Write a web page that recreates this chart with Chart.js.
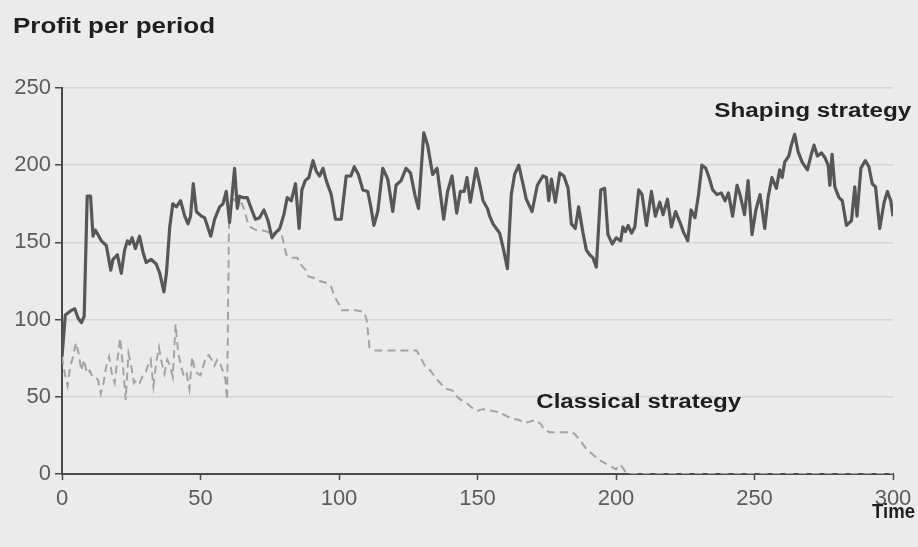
<!DOCTYPE html>
<html>
<head>
<meta charset="utf-8">
<script src="https://cdn.jsdelivr.net/npm/chart.js@4.4.1/dist/chart.umd.min.js"></script>
<style>
  html, body { margin: 0; padding: 0; background: #ebebeb; }
  #wrap { width: 918px; height: 547px; position: relative; }
</style>
</head>
<body>
<div id="wrap"><canvas id="chart"></canvas></div>
<script>
// time axis ticks / y ticks
const timeTicks = [0, 50, 100, 150, 200, 250, 300];
const profitTicks = [0, 50, 100, 150, 200, 250];

// shaping strategy (solid dark line)
const shapingTime = [0, 1.2, 3.4, 4.6, 5.8, 7, 8, 9.1, 10.3, 11.2, 12, 13, 14.2, 16, 17.6, 18.4, 20, 21.4, 22.6, 23.6,
  24.4, 25.3, 26.5, 28, 29.2, 30.4, 32.2, 34, 35.3, 36.8, 37.7, 38.9, 40, 41.3, 42.8, 44.3, 45.5, 46.4, 47.4, 48.5,
  50.3, 51.5, 53.7, 55.1, 56.9, 58.1, 59.3, 60.5, 62.3, 63.3, 64.1, 65.3, 66.9, 68.3, 69.8, 71.3, 72.9, 74.4, 75.8, 77,
  78.6, 80.1, 81.3, 82.8, 84.3, 85.6, 86.6, 87.8, 89.1, 90.6, 91.8, 93, 94.2, 95.4, 97.2, 98.7, 100.8, 102.6, 104.3, 105.5,
  107, 108.6, 110.4, 111.6, 112.6, 114, 115.8, 117.6, 119.4, 120.6, 122.4, 124.2, 125.8, 127.5, 128.7, 130.6, 132, 133.8, 135.4, 137.8,
  139.2, 140.8, 142.5, 143.8, 145.2, 146.2, 147.4, 149.5, 151, 152, 153.6, 154.4, 155.6, 156.8, 158, 159.2, 160.8, 162.2, 163.4, 164.9,
  166.4, 167.6, 169.7, 171.6, 173.6, 174.9, 175.7, 176.7, 178.1, 179.7, 181.2, 182.7, 183.9, 185.3, 186.5, 188.1, 189.3, 190.5, 191.7, 192.9,
  194.5, 195.9, 197.1, 198.7, 200.1, 201.7, 202.5, 203.4, 204.4, 205.6, 206.8, 208.2, 209.4, 211, 212.8, 214.2, 215.8, 217, 218.6, 220,
  221.5, 223.1, 224.3, 225.9, 227.1, 228.5, 229.8, 231, 232.4, 233.6, 234.9, 236.4, 238, 239.4, 240.6, 242.1, 243.7, 244.9, 246.4, 247.7,
  249.1, 250.5, 252, 253.7, 254.9, 256.3, 257.9, 259.1, 260, 260.9, 262.4, 263.3, 264.5, 265.7, 267.2, 269.1, 270.5, 271.5, 272.7, 274.2,
  275.4, 276.6, 277.2, 278, 279, 280.5, 281.7, 283.2, 285, 286.2, 287, 288.4, 290, 291.3, 292.5, 293.7, 295.2, 296.8, 298, 299.2, 300];
const shapingProfit = [76, 103, 106, 107, 101, 98, 102, 180, 180, 154, 158, 155, 151, 148, 132, 139, 142, 130, 145, 151,
  149, 153, 146, 154, 144, 137, 139, 136, 130, 118, 130, 160, 175, 173, 177, 167, 162, 167, 188, 170,
  167, 166, 154, 165, 173, 175, 183, 163, 198, 172, 180, 179, 179, 172, 165, 166, 171, 164, 153, 156,
  159, 168, 179, 177, 188, 159, 184, 190, 192, 203, 196, 193, 198, 190, 181, 165, 165, 193, 193, 199,
  194, 184, 183, 172, 161, 170, 198, 191, 170, 187, 190, 198, 195, 180, 172, 221, 213, 194, 198, 165,
  183, 193, 169, 183, 183, 192, 176, 198, 186, 177, 172, 167, 162, 159, 156, 147, 133, 181, 194, 200,
  188, 178, 170, 187, 193, 192, 177, 191, 176, 195, 193, 185, 162, 159, 173, 156, 145, 142, 140, 134,
  184, 185, 155, 149, 153, 151, 160, 157, 161, 156, 160, 184, 181, 161, 183, 167, 176, 168, 178, 160,
  170, 163, 157, 151, 171, 166, 181, 200, 198, 192, 184, 181, 182, 177, 182, 167, 187, 180, 168, 190,
  155, 171, 181, 159, 179, 192, 185, 197, 192, 202, 206, 213, 220, 209, 202, 197, 207, 213, 206, 208,
  205, 200, 187, 207, 186, 179, 177, 161, 164, 186, 167, 198, 203, 199, 188, 186, 159, 176, 183, 177, 167];

// classical strategy (dashed light line)
const classicalTime = [0, 1, 2, 3, 4, 5, 6, 7, 8, 9, 10, 11, 12, 13, 14, 15, 16, 17, 18, 19,
  20, 21, 22, 23, 24, 25, 26, 27, 28, 29, 30, 31, 32, 33, 34, 35, 36, 37, 38, 39,
  40, 41, 42, 43, 44, 45, 46, 47, 48, 49, 50, 51, 52, 53, 54, 55, 56, 57, 58, 59,
  59.6, 60.3, 61, 62, 63, 64, 65, 66, 67, 68, 70, 72, 74, 76, 78, 79, 80, 81, 83, 85,
  86, 88, 89, 91, 93, 95, 97, 98, 99, 100, 101, 103, 106, 109, 110, 111, 113, 116, 119, 122,
  125, 128, 129, 131, 133, 135, 137, 139, 141, 142, 144, 146, 148, 150, 152, 155, 158, 160, 162, 165,
  167, 169, 171, 173, 174, 176, 178, 181, 184, 185, 187, 189, 190, 192, 194, 196, 198, 200, 201, 202,
  204, 220, 240, 260, 280, 300];
const classicalProfit = [76, 65, 57, 70, 76, 85, 78, 67, 74, 65, 67, 63, 63, 61, 52, 59, 70, 76, 65, 59,
  74, 88, 70, 48, 78, 70, 59, 61, 59, 63, 65, 70, 74, 57, 72, 82, 72, 65, 74, 70,
  63, 97, 78, 70, 63, 65, 55, 76, 67, 65, 64, 70, 76, 77, 74, 70, 74, 72, 67, 61,
  48, 165, 176, 178, 176, 176, 175, 170, 163, 160, 158, 158, 157, 155, 158, 157, 150, 142, 140, 140,
  136, 132, 128, 127, 125, 124, 122, 117, 113, 110, 106, 106, 106, 105, 100, 82, 80, 80, 80, 80,
  80, 80, 77, 70, 67, 62, 58, 55, 54, 51, 48, 46, 43, 41, 42, 41, 40, 38, 36, 35,
  33, 34, 35, 32, 29, 27, 27, 27, 27, 26, 22, 17, 15, 12, 9, 7, 5, 3, 6, 5,
  0, 0, 0, 0, 0, 0];

const toPoints = (xs, ys) => xs.map((x, i) => ({ x: x, y: ys[i] }));

const textColor = '#1f1f1f';
const tickColor = '#5c5c5c';
const axisColor = '#4a4a4a';

// draws text stretched to a given width (reference type is slightly wide)
function wideText(ctx, text, x, y, font, width, align) {
  ctx.save();
  ctx.font = font;
  ctx.fillStyle = textColor;
  ctx.textBaseline = 'alphabetic';
  const w = ctx.measureText(text).width;
  const sx = width / w;
  const left = align === 'right' ? x - width : x;
  ctx.translate(left, y);
  ctx.scale(sx, 1);
  ctx.fillText(text, 0, 0);
  ctx.restore();
}

const background = {
  id: 'background',
  beforeDraw(chart) {
    const ctx = chart.ctx;
    ctx.save();
    ctx.fillStyle = '#ebebeb';
    ctx.fillRect(0, 0, chart.width, chart.height);
    ctx.restore();
  }
};

const labels = {
  id: 'labels',
  afterDraw(chart) {
    const ctx = chart.ctx;
    const xs = chart.scales.x, ys = chart.scales.y;
    const bold = '"Liberation Sans", Arial, sans-serif';
    wideText(ctx, 'Profit per period', 13, 33, 'bold 22px ' + bold, 202);
    wideText(ctx, 'Time', chart.width - 3, 518, 'bold 21px ' + bold, 43, 'right');
    wideText(ctx, 'Shaping strategy', xs.getPixelForValue(235.5), ys.getPixelForValue(231.5), 'bold 20px ' + bold, 197);
    wideText(ctx, 'Classical strategy', xs.getPixelForValue(171.2), ys.getPixelForValue(43), 'bold 20px ' + bold, 205);
  }
};

new Chart(document.getElementById('chart'), {
  type: 'line',
  data: {
    datasets: [{
      label: 'Shaping strategy',
      data: toPoints(shapingTime, shapingProfit),
      borderColor: '#575757',
      borderWidth: 3.2,
      pointRadius: 0,
      tension: 0,
      borderJoinStyle: 'round'
    }, {
      label: 'Classical strategy',
      data: toPoints(classicalTime, classicalProfit),
      borderColor: '#a3a3a3',
      borderWidth: 2,
      borderDash: [8, 5],
      pointRadius: 0,
      tension: 0
    }]
  },
  options: {
    responsive: true,
    maintainAspectRatio: false,
    animation: false,
    layout: { padding: { top: 88, right: 25, left: 0, bottom: 0 } },
    plugins: {
      legend: { display: false },
      tooltip: { enabled: false }
    },
    scales: {
      x: {
        type: 'linear',
        min: 0,
        max: 300,
        afterBuildTicks: (scale) => { scale.ticks = timeTicks.map(v => ({ value: v })); },
        afterFit: (scale) => { scale.height = 73; },
        ticks: {
          color: tickColor,
          font: { family: '"Liberation Sans", Arial, sans-serif', size: 22 },
          padding: 6,
          maxRotation: 0
        },
        grid: {
          drawOnChartArea: false,
          tickLength: 6,
          tickColor: axisColor,
          tickWidth: 1.5
        },
        border: { color: axisColor, width: 2 }
      },
      y: {
        min: 0,
        max: 250,
        afterBuildTicks: (scale) => { scale.ticks = profitTicks.map(v => ({ value: v })); },
        afterFit: (scale) => { scale.width = 62; },
        ticks: {
          color: tickColor,
          font: { family: '"Liberation Sans", Arial, sans-serif', size: 22 },
          padding: 4
        },
        grid: {
          color: '#d6d6d6',
          lineWidth: 1.5,
          tickLength: 7,
          tickColor: axisColor,
          tickWidth: 1.5
        },
        border: { color: axisColor, width: 2 }
      }
    }
  },
  plugins: [background, labels]
});
</script>
</body>
</html>
